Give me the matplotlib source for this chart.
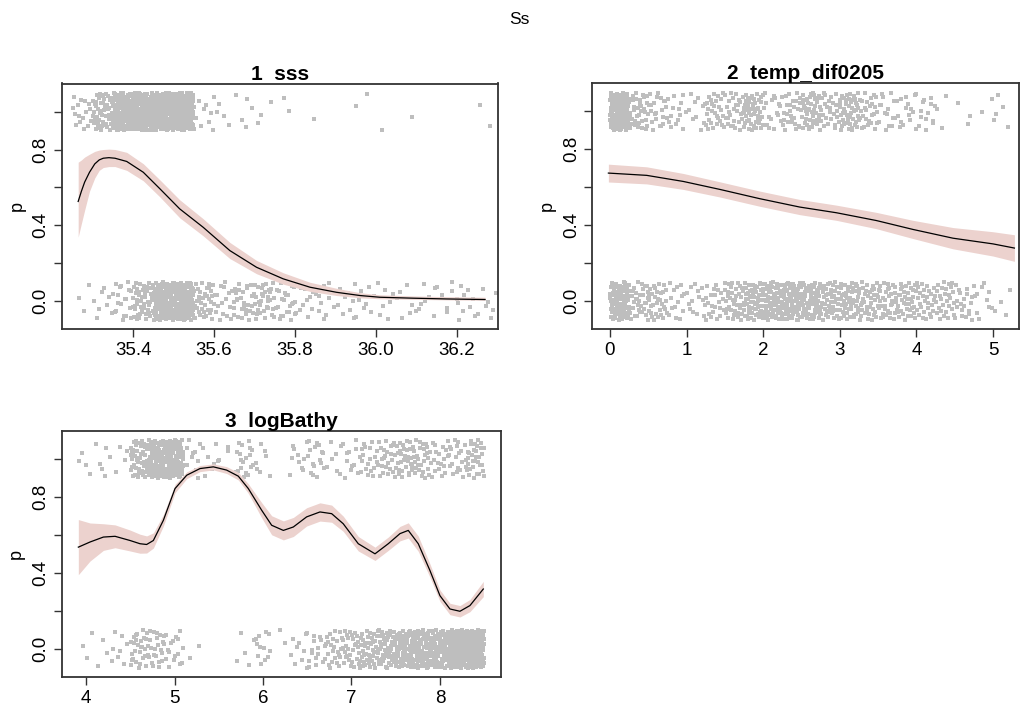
import numpy as np
import matplotlib.pyplot as plt

plt.rcParams['font.family'] = ['Liberation Sans', 'DejaVu Sans']

# ---- panel 1: sss ----
sss_x = [35.264, 35.272, 35.28, 35.292, 35.305, 35.316, 35.326, 35.34, 35.355, 35.384,
         35.425, 35.466, 35.515, 35.573, 35.639, 35.705, 35.771, 35.837, 35.903, 35.961,
         36.01, 36.093, 36.175, 36.27]
sss_p = [0.526, 0.58, 0.628, 0.68, 0.724, 0.745, 0.754, 0.757, 0.754, 0.737,
         0.680, 0.593, 0.487, 0.390, 0.267, 0.179, 0.118, 0.074, 0.047, 0.030,
         0.021, 0.016, 0.012, 0.009]
sss_hi = [0.733, 0.745, 0.76, 0.775, 0.79, 0.797, 0.80, 0.802, 0.80, 0.785,
          0.725, 0.64, 0.535, 0.435, 0.31, 0.215, 0.15, 0.10, 0.068, 0.045,
          0.034, 0.028, 0.024, 0.021]
sss_lo = [0.338, 0.41, 0.48, 0.58, 0.65, 0.69, 0.705, 0.71, 0.71, 0.69,
          0.635, 0.55, 0.44, 0.345, 0.225, 0.145, 0.09, 0.052, 0.03, 0.018,
          0.013, 0.010, 0.007, 0.005]
sss_bin_start = 35.25
sss_bin_w = 0.05
sss_pres = [16, 50, 120, 135, 135, 110, 10, 4, 5, 3, 2, 1, 0, 0, 2, 1, 1, 0, 0, 0, 2]
sss_abs = [3, 8, 20, 45, 115, 115, 35, 18, 26, 32, 22, 12, 11, 9, 8, 7, 7, 7, 7, 9, 7]

# ---- panel 2: temp_dif0205 ----
tmp_x = [-0.02, 0.48, 0.957, 1.435, 1.957, 2.478, 2.957, 3.478, 3.957, 4.478, 5.0, 5.28]
tmp_p = [0.675, 0.663, 0.631, 0.589, 0.540, 0.496, 0.466, 0.425, 0.378, 0.332, 0.302, 0.280]
tmp_se = [0.047, 0.045, 0.042, 0.040, 0.040, 0.040, 0.040, 0.043, 0.048, 0.056, 0.064, 0.070]
tmp_bin_start = 0.0
tmp_bin_w = 0.25
tmp_pres = [110, 35, 22, 14, 10, 28, 28, 45, 16, 28, 42, 26, 45, 26, 16, 14, 14, 3, 3, 2, 5]
tmp_abs = [85, 35, 32, 14, 14, 22, 36, 60, 70, 68, 60, 45, 45, 36, 36, 36, 28, 28, 20, 10, 4]

# ---- panel 3: logBathy ----
bat_x = [3.913, 4.045, 4.196, 4.328, 4.497, 4.61, 4.685, 4.761, 4.874, 5.006, 5.138, 5.288,
         5.439, 5.589, 5.721, 5.834, 5.985, 6.098, 6.23, 6.343, 6.493, 6.644, 6.776, 6.907,
         7.077, 7.266, 7.416, 7.548, 7.642, 7.755, 7.887, 8.0, 8.113, 8.226, 8.339, 8.49]
bat_p = [0.536, 0.563, 0.589, 0.593, 0.571, 0.554, 0.550, 0.571, 0.677, 0.844, 0.914, 0.949,
         0.958, 0.941, 0.909, 0.844, 0.730, 0.651, 0.624, 0.642, 0.695, 0.721, 0.712, 0.659,
         0.554, 0.501, 0.554, 0.607, 0.624, 0.554, 0.413, 0.281, 0.211, 0.199, 0.229, 0.316]
bat_se = [0.145, 0.10, 0.07, 0.06, 0.055, 0.05, 0.045, 0.04, 0.03, 0.022, 0.018, 0.016,
          0.016, 0.018, 0.02, 0.025, 0.04, 0.05, 0.05, 0.05, 0.048, 0.048, 0.045, 0.04,
          0.038, 0.035, 0.035, 0.038, 0.04, 0.04, 0.035, 0.03, 0.03, 0.03, 0.032, 0.04]
bat_bin_start = 3.9
bat_bin_w = 0.2
bat_pres = [4, 6, 4, 45, 85, 90, 12, 7, 4, 18, 7, 0, 10, 16, 7, 12, 18, 24, 30, 28, 18, 20, 32]
bat_abs = [3, 4, 7, 28, 24, 15, 2, 0, 0, 5, 12, 2, 9, 15, 24, 30, 40, 50, 65, 75, 85, 110, 130]


def halton(i, b):
    f, r = 1.0, 0.0
    while i > 0:
        f /= b
        r += f * (i % b)
        i //= b
    return r


def rug_points(start, w, counts, base, seed):
    # spread each bin's count across the bin, jittered +-0.1 around base (0 or 1)
    xs, ys = [], []
    k = seed
    for j, n in enumerate(counts):
        for _ in range(n):
            k += 1
            xs.append(start + (j + halton(k, 2)) * w)
            ys.append(base + (halton(k, 3) - 0.5) * 0.2)
    return xs, ys


W, H = 1025, 713
fig = plt.figure(figsize=(W / 100, H / 100), dpi=100)

band_col = '#ECD2CE'
pt_col = '#BEBEBE'


def panel(rect, title, x, p, lo, hi, pts, xlim, xticks, xticklabels):
    ax = fig.add_axes(rect)
    start, w, pres, absn = pts
    for counts, base, seed in [(pres, 1, 0), (absn, 0, 5000)]:
        px, py = rug_points(start, w, counts, base, seed)
        ax.plot(px, py, 's', color=pt_col, ms=2.2, mew=0, zorder=1)
    ax.fill_between(x, lo, hi, color=band_col, lw=0, zorder=2)
    ax.plot(x, p, color='black', lw=0.9, zorder=3)
    ax.set_xlim(xlim)
    ax.set_ylim(-0.148, 1.148)
    ax.set_xticks(xticks)
    ax.set_xticklabels(xticklabels)
    ax.set_yticks([0, 0.2, 0.4, 0.6, 0.8, 1.0])
    ax.set_yticklabels(['0.0', '', '0.4', '', '0.8', ''], rotation=90, va='center')
    ax.tick_params(labelsize=13.5, length=6, width=1, color='#333333', pad=3)
    for s in ax.spines.values():
        s.set_color('#333333')
        s.set_linewidth(1.3)
    ax.set_ylabel('p', fontsize=13, labelpad=5)
    ax.set_title(title, fontsize=15, fontweight='bold', pad=2)
    return ax


panel([62 / W, 1 - 329.3 / H, 436 / W, 245.8 / H], '1  sss',
      sss_x, sss_p, sss_lo, sss_hi,
      (sss_bin_start, sss_bin_w, sss_pres, sss_abs),
      (35.224, 36.302), [35.4, 35.6, 35.8, 36.0, 36.2],
      ['35.4', '35.6', '35.8', '36.0', '36.2'])

tmp_lo = [a - b for a, b in zip(tmp_p, tmp_se)]
tmp_hi = [a + b for a, b in zip(tmp_p, tmp_se)]
panel([592.3 / W, 1 - 329.3 / H, 426.7 / W, 246 / H], '2  temp_dif0205',
      tmp_x, tmp_p, tmp_lo, tmp_hi,
      (tmp_bin_start, tmp_bin_w, tmp_pres, tmp_abs),
      (-0.23, 5.34), [0, 1, 2, 3, 4, 5], ['0', '1', '2', '3', '4', '5'])

bat_lo = [a - b for a, b in zip(bat_p, bat_se)]
bat_hi = [a + b for a, b in zip(bat_p, bat_se)]
panel([61.7 / W, 1 - 677.3 / H, 439.3 / W, 246.6 / H], '3  logBathy',
      bat_x, bat_p, bat_lo, bat_hi,
      (bat_bin_start, bat_bin_w, bat_pres, bat_abs),
      (3.725, 8.69), [4, 5, 6, 7, 8], ['4', '5', '6', '7', '8'])

fig.text(0.507, 1 - 20 / H, 'Ss', ha='center', va='center', fontsize=12.5)

fig.savefig('out.png', dpi=100)
